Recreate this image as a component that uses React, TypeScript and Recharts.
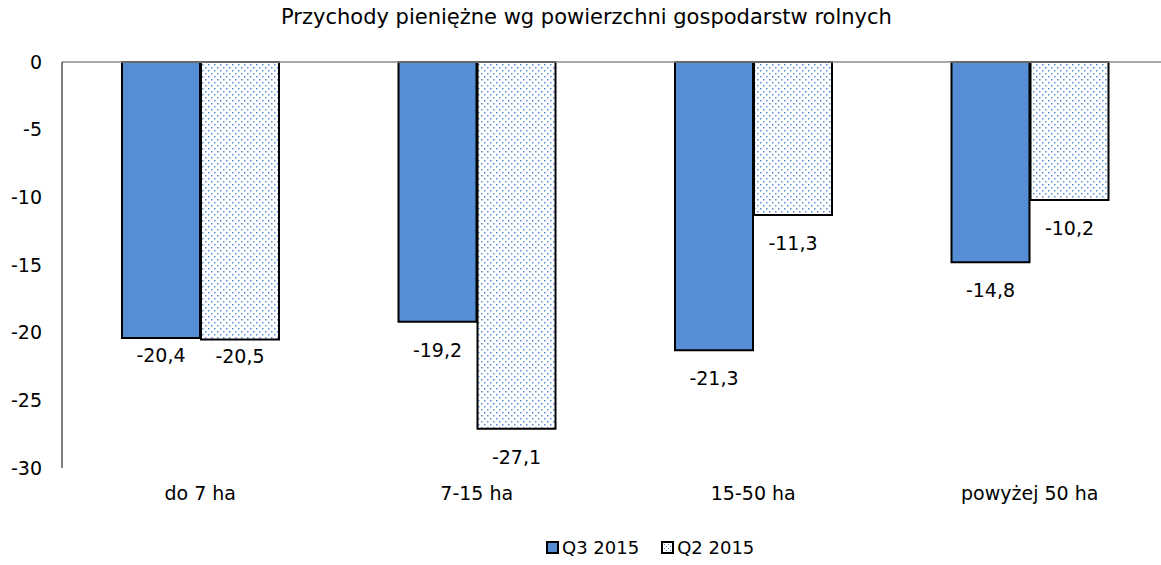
import React from 'react';
import {
    BarChart,
    Bar,
    XAxis,
    YAxis,
    ReferenceLine,
    LabelList,
} from 'recharts';

const categories = ['do 7 ha', '7-15 ha', '15-50 ha', 'powyżej 50 ha'];
const q3Values = [-20.4, -19.2, -21.3, -14.8];
const q2Values = [-20.5, -27.1, -11.3, -10.2];
const yTicks = [0, -5, -10, -15, -20, -25, -30];

const FONT = '"DejaVu Sans", Verdana, sans-serif';
const BLUE = '#558ed5';

const chartData = categories.map((name, i) => ({
    name,
    q3: q3Values[i],
    q2: q2Values[i],
}));

const fmt = (v: any) => Number(v).toFixed(1).replace('.', ',');

// value labels sit under the end of each (negative) bar; first group sits a bit closer
const BelowLabel = (props: any) => {
    const { x, y, width, height, value, index } = props;
    const bottom = Math.max(y, y + height);
    const gap = index === 0 ? 24 : 35;
    return (
        <text x={x + width / 2} y={bottom + gap} textAnchor="middle" fill="#000" fontSize={19} fontFamily={FONT}>
            {fmt(value)}
        </text>
    );
};

const LegendBox = ({ pattern }: { pattern?: boolean }) => (
    <svg width={13} height={13} style={{ marginRight: 3 }}>
        <defs>
            <pattern id="legendDots" width={4} height={4} patternUnits="userSpaceOnUse">
                <rect x={0} y={0} width={4} height={4} fill="#fff" />
                <rect x={1} y={1} width={1} height={1} fill={BLUE} />
                <rect x={3} y={3} width={1} height={1} fill={BLUE} />
            </pattern>
        </defs>
        <rect x={1} y={1} width={11} height={11} fill={pattern ? 'url(#legendDots)' : BLUE} stroke="#000" strokeWidth={2} />
    </svg>
);

export default function App() {
    return (
        <div style={{ position: 'absolute', left: 0, top: 0, width: 1161, height: 565, background: '#fff', fontFamily: FONT, overflow: 'hidden' }}>
            <div style={{ position: 'absolute', top: 5, left: 6, width: 1161, textAlign: 'center', fontSize: 21, color: '#000', whiteSpace: 'nowrap' }}>
                Przychody pieniężne wg powierzchni gospodarstw rolnych
            </div>
            <BarChart
                width={1168}
                height={565}
                data={chartData}
                margin={{ top: 62, right: 0, bottom: 67, left: 0 }}
                barGap={1}
                barSize={78}
            >
                <defs>
                    <pattern id="dots" width={6} height={6} patternUnits="userSpaceOnUse">
                        <rect x={0} y={0} width={6} height={6} fill="#fff" />
                        <rect x={1} y={1} width={1.5} height={1.5} fill={BLUE} />
                        <rect x={4} y={4} width={1.5} height={1.5} fill={BLUE} />
                    </pattern>
                </defs>
                <XAxis
                    dataKey="name"
                    axisLine={false}
                    tickLine={false}
                    tick={{ fill: '#000', fontSize: 19, fontFamily: FONT }}
                    tickMargin={13}
                />
                <YAxis
                    width={62}
                    domain={[-30, 0]}
                    ticks={yTicks}
                    interval={0}
                    axisLine={{ stroke: '#000', strokeWidth: 1 }}
                    tickLine={false}
                    tickMargin={14}
                    tick={{ fill: '#000', fontSize: 19, fontFamily: FONT }}
                />
                <ReferenceLine y={0} stroke="#8c8c8c" strokeWidth={1.5} />
                <Bar dataKey="q3" fill={BLUE} stroke="#000" strokeWidth={2} isAnimationActive={false}>
                    <LabelList dataKey="q3" content={BelowLabel} />
                </Bar>
                <Bar dataKey="q2" fill="url(#dots)" stroke="#000" strokeWidth={2} isAnimationActive={false}>
                    <LabelList dataKey="q2" content={BelowLabel} />
                </Bar>
            </BarChart>
            <div style={{ position: 'absolute', top: 537, left: 546, display: 'flex', alignItems: 'center', fontSize: 18, color: '#000', whiteSpace: 'nowrap' }}>
                <span style={{ display: 'flex', alignItems: 'center', marginRight: 22 }}>
                    <LegendBox />Q3 2015
                </span>
                <span style={{ display: 'flex', alignItems: 'center' }}>
                    <LegendBox pattern />Q2 2015
                </span>
            </div>
        </div>
    );
}
